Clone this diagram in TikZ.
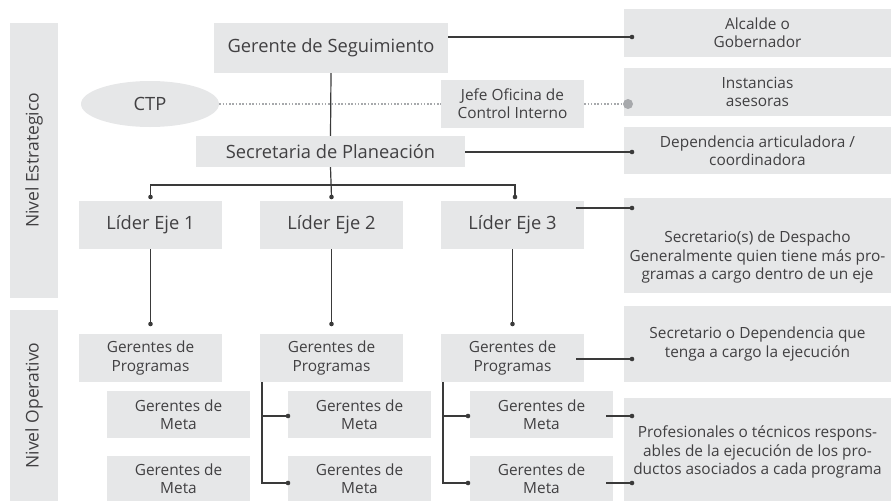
\documentclass[tikz,border=0pt]{standalone}
\usepackage{fontspec}
\setmainfont{Open Sans}
\usetikzlibrary{shapes.geometric}
\definecolor{boxgray}{HTML}{E6E7E8}
\definecolor{txt}{HTML}{414042}
\definecolor{ln}{HTML}{3A3A3A}
\definecolor{dotg}{HTML}{A7A9AC}
\begin{document}
\begin{tikzpicture}[x=1pt,y=-1pt,
  bx/.style={fill=boxgray, draw=none, inner sep=0pt, text=txt, align=center},
  big/.style={font=\fontsize{18.3}{21}\selectfont},
  sm/.style={font=\fontsize{15.4}{18.3}\selectfont},
  lbl/.style={text=txt, align=center, inner sep=0pt},
  conn/.style={draw=ln, line width=1.2pt},
  dotline/.style={draw=dotg, line width=1.6pt, dash pattern=on 1.6pt off 1.7pt},
  bigdot/.style={fill=ln},
]
\useasboundingbox (0,0) rectangle (891,501);
% level bars
\node[bx,minimum width=48pt,minimum height=275pt] (estr) at (34,160.5) {};
\node[lbl,rotate=90,font=\fontsize{17.5}{20}\selectfont] (estrt) at (estr) {Nivel Estrategico};
\node[bx,minimum width=48pt,minimum height=191pt] (oper) at (34,405.5) {};
\node[lbl,rotate=90,font=\fontsize{17.5}{20}\selectfont] (opert) at (oper) {Nivel Operativo};
% top hierarchy
\node[bx,big,minimum width=234pt,minimum height=50pt] (gs) at (331,48) {Gerente de Seguimiento};
\node[bx,big,ellipse,minimum width=138pt,minimum height=46pt] (ctp) at (150,104) {CTP};
\node[bx,sm,minimum width=143pt,minimum height=48pt] (jefe) at (512.5,104) {Jefe Oficina de\\Control Interno};
\node[bx,big,minimum width=269pt,minimum height=31pt] (sp) at (330.5,151.5) {Secretaria de Planeación};
\node[bx,big,minimum width=143pt,minimum height=48pt] (l1) at (150.5,225) {Líder Eje 1};
\node[bx,big,minimum width=143pt,minimum height=48pt] (l2) at (331.5,225) {Líder Eje 2};
\node[bx,big,minimum width=143pt,minimum height=48pt] (l3) at (512.5,225) {Líder Eje 3};
% operative
\node[bx,sm,minimum width=143pt,minimum height=48pt] (p1) at (150.5,358) {Gerentes de\\Programas};
\node[bx,sm,minimum width=143pt,minimum height=48pt] (p2) at (331.5,358) {Gerentes de\\Programas};
\node[bx,sm,minimum width=143pt,minimum height=48pt] (p3) at (512.5,358) {Gerentes de\\Programas};
\node[bx,sm,minimum width=143pt,minimum height=47pt] (m1a) at (178.5,414.5) {Gerentes de\\Meta};
\node[bx,sm,minimum width=143pt,minimum height=45pt] (m1b) at (178.5,478.5) {Gerentes de\\Meta};
\node[bx,sm,minimum width=143pt,minimum height=47pt] (m2a) at (359.5,414.5) {Gerentes de\\Meta};
\node[bx,sm,minimum width=143pt,minimum height=45pt] (m2b) at (359.5,478.5) {Gerentes de\\Meta};
\node[bx,sm,minimum width=143pt,minimum height=47pt] (m3a) at (541.5,414.5) {Gerentes de\\Meta};
\node[bx,sm,minimum width=143pt,minimum height=45pt] (m3b) at (541.5,478.5) {Gerentes de\\Meta};
% right descriptions
\node[bx,sm,minimum width=267pt,minimum height=48pt] (r1) at (757.5,33) {Alcalde o\\Gobernador};
\node[bx,sm,minimum width=267pt,minimum height=48pt] (r2) at (757.5,92) {Instancias\\asesoras};
\node[bx,sm,minimum width=267pt,minimum height=47pt] (r3) at (757.5,150.5) {Dependencia articuladora /\\coordinadora};
\node[bx,minimum width=267pt,minimum height=95pt] (r4) at (757.5,245.5) {};
\node[lbl,sm] (r4t) at (757.5,257) {Secretario(s) de Despacho\\Generalmente quien tiene más pro-\\gramas a cargo dentro de un eje};
\node[bx,sm,minimum width=267pt,minimum height=76pt] (r5) at (757.5,344) {Secretario o Dependencia que\\tenga a cargo la ejecución};
\node[bx,minimum width=267pt,minimum height=103pt] (r6) at (757.5,449.5) {};
\node[lbl,sm] (r6t) at (757.5,452) {Profesionales o técnicos respons-\\ables de la ejecución de los pro-\\ductos asociados a cada programa};
% dot coordinates
\coordinate (d1) at (632,37);
\coordinate (d3) at (632,152);
\coordinate (d4) at (632,208);
\coordinate (d5) at (632,359);
\coordinate (d6) at (632,416);
\coordinate (d7) at (632,483);
\coordinate (bus) at (331,185);
\coordinate (e1) at (150.5,197);
\coordinate (e2) at (331.5,197);
\coordinate (e3) at (515,197);
\coordinate (q1) at (150.5,324);
\coordinate (q2) at (331.5,324);
\coordinate (q3) at (512.5,324);
\coordinate (g2a) at (288,416);
\coordinate (g2b) at (288,483);
\coordinate (g3a) at (468,416);
\coordinate (g3b) at (468,483);
\coordinate (c2) at (262,382);
\coordinate (c3) at (443,382);
\coordinate (cdot) at (628,104);
% connectors
\draw[conn] (gs.south) -- (sp.north);
\draw[conn] (sp.south) -- (e2);
\draw[conn] (e1) -- (e1 |- bus) -- (e3 |- bus) -- (e3);
\draw[conn] (gs.east |- d1) -- (d1);
\draw[conn] (sp.east |- d3) -- (d3);
\draw[conn] ([xshift=-8pt]l3.east |- d4) -- (d4);
\draw[conn] ([xshift=-8pt]p3.east |- d5) -- (d5);
\draw[conn] ([xshift=-7pt]m3a.east |- d6) -- (d6);
\draw[conn] ([xshift=-7pt]m3b.east |- d7) -- (d7);
\draw[conn] (l1.south) -- (q1);
\draw[conn] (l2.south) -- (q2);
\draw[conn] (l3.south) -- (q3);
\draw[conn] (c2) -- (c2 |- g2b) -- (g2b);
\draw[conn] (c2 |- g2a) -- (g2a);
\draw[conn] (c3) -- (c3 |- g3b) -- (g3b);
\draw[conn] (c3 |- g3a) -- (g3a);
\draw[dotline] (ctp.east) -- (jefe.west);
\draw[dotline] (jefe.east) -- (cdot);
\fill[dotg] (cdot) circle (5pt);
\foreach \d in {d1,d3,d4,d5,d6,d7,e1,e2,e3,q1,q2,q3,g2a,g2b,g3a,g3b}
  \fill[bigdot] (\d) circle (2.3pt);
\end{tikzpicture}
\end{document}
